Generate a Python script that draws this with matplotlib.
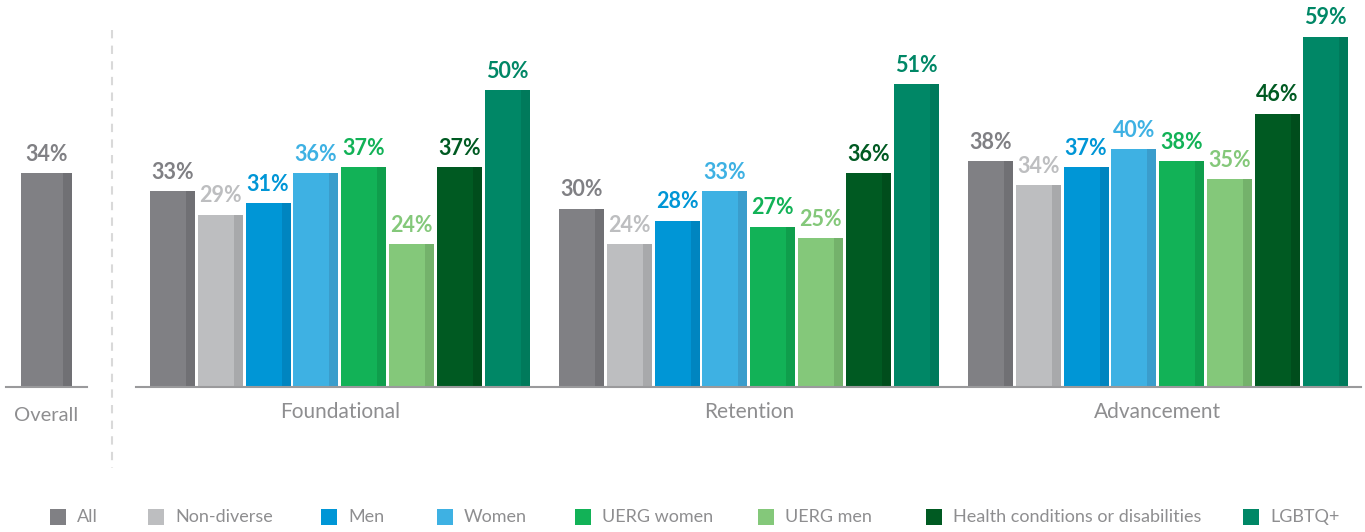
import matplotlib
matplotlib.use("Agg")
import matplotlib.pyplot as plt
from matplotlib.patches import Rectangle
from matplotlib.lines import Line2D

plt.rcParams['font.family'] = ['Lato', 'DejaVu Sans']

groups = ["Foundational", "Retention", "Advancement"]
series = ["All", "Non-diverse", "Men", "Women", "UERG women", "UERG men",
          "Health conditions or disabilities", "LGBTQ+"]
overall_label = "Overall"
overall_value = 34
foundational = [33, 29, 31, 36, 37, 24, 37, 50]
retention = [30, 24, 28, 33, 27, 25, 36, 51]
advancement = [38, 34, 37, 40, 38, 35, 46, 59]
values = [foundational, retention, advancement]

colors = ["#808084", "#bdbec0", "#0096d6", "#3eb1e3", "#12b257", "#84c87a", "#005a22", "#008766"]
shades = ["#707074", "#a8a9ab", "#0085c0", "#3a9dcc", "#0f9e4c", "#74b26b", "#004d1c", "#007a5b"]
label_colors = ["#808084", "#bdbec0", "#0096d6", "#3eb1e3", "#12b257", "#84c87a", "#005a22", "#008766"]

# legend layout (pixel x of each swatch)
legend_x = [50, 148, 321, 437, 575, 758, 926, 1243]

W, H = 1365, 532
fig = plt.figure(figsize=(W / 100, H / 100), dpi=100)

base_y = 387  # baseline pixel from top
text_gray = '#8e8e90'


def px_axes(x0, x1, y_top, y_bot):
    return fig.add_axes([x0 / W, 1 - y_bot / H, (x1 - x0) / W, (y_bot - y_top) / H])


# main axes, x in pixel units
ax = px_axes(136, 1361, 0, base_y)
ax.set_xlim(136, 1361)
ax.set_ylim(0, base_y / 5.94)
ax.axis('off')

bar_w = 45
strip_w = 9
step = 47.8
gstep = 409
start = 150
for gi, g in enumerate(groups):
    for si, v in enumerate(values[gi]):
        left = start + gi * gstep + si * step
        ax.bar(left, v, width=bar_w, align='edge', color=colors[si], linewidth=0)
        ax.bar(left + bar_w - strip_w, v, width=strip_w, align='edge', color=shades[si], linewidth=0)
        ax.annotate(f"{v}%", (left + bar_w / 2, v), xytext=(0, 6), textcoords='offset points',
                    ha='center', va='bottom', fontsize=15.5, fontweight='bold',
                    color=label_colors[si])
    center = start + gi * gstep + (7 * step + bar_w) / 2
    ax.text(center, -4.2, g, ha='center', va='center', fontsize=15, color=text_gray)
ax.axhline(0, color='#9a9a9c', lw=1.5, clip_on=False)

# overall axes
ax2 = px_axes(6, 87, 0, base_y)
ax2.set_xlim(6, 87)
ax2.set_ylim(0, base_y / (214 / 34))
ax2.axis('off')
ax2.bar(21, overall_value, width=51, align='edge', color=colors[0], linewidth=0)
ax2.bar(21 + 51 - strip_w, overall_value, width=strip_w, align='edge', color=shades[0], linewidth=0)
ax2.annotate(f"{overall_value}%", (21 + 51 / 2, overall_value), xytext=(0, 6),
             textcoords='offset points', ha='center', va='bottom', fontsize=15.5,
             fontweight='bold', color=label_colors[0])
ax2.axhline(0, color='#9a9a9c', lw=1.5, clip_on=False)
ax2.text(46.5, -4.45, overall_label, ha='center', va='center', fontsize=14.5, color=text_gray)

# dashed separator
fig.add_artist(Line2D([112 / W, 112 / W], [1 - 30 / H, 1 - 468 / H], color='#d9d9d9',
                      lw=1.5, linestyle=(0, (4, 3.5))))

# legend (manual row)
sq = 16
ly = 517
for name, c, lx in zip(series, colors, legend_x):
    fig.add_artist(Rectangle((lx / W, 1 - (ly + sq / 2) / H), sq / W, sq / H,
                             facecolor=c, edgecolor='none', transform=fig.transFigure))
    fig.text((lx + sq + 11) / W, 1 - ly / H, name, ha='left', va='center',
             fontsize=13, color=text_gray)

fig.savefig("out.png", dpi=100)
